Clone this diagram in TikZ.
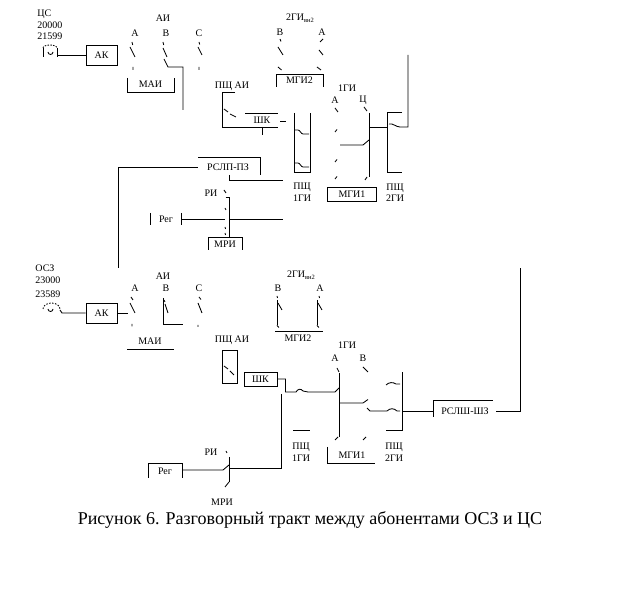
\documentclass[tikz,border=0pt]{standalone}
\usepackage{fontspec}
\setmainfont{Liberation Serif}
\begin{document}
\begin{tikzpicture}[x=1pt,y=-1pt,line width=0.85pt,
  every node/.style={inner sep=0pt,font=\fontsize{10}{11}\selectfont},
  boxn/.style={draw,line width=0.85pt},
  wire/.style={line width=0.85pt},
  cnt/.style={line width=0.85pt},
  capt/.style={font=\fontsize{18}{20}\selectfont}]
\useasboundingbox (0,0) rectangle (622,609);
\fill[white] (0,0) rectangle (622,609);

% ================= TOP: ЦС =================
\node[anchor=west] (cs) at (37,14) {ЦС};
\node[anchor=west] (csa) at (37,25) {20000};
\node[anchor=west] (csb) at (37,36) {21599};
% phone
\draw[cnt,dash pattern=on 1.5pt off 1.3pt] (43,48) arc[start angle=180,end angle=360,x radius=7,y radius=3];
\draw[cnt] (43,48)--(43,57) (57,48)--(57,57);
\draw[cnt] (48,52) arc[start angle=180,end angle=0,radius=2.5];
\coordinate (ph1) at (57,55);
\node[boxn,minimum width=31pt,minimum height=20pt] (ak1) at (101.5,55) {АК};
\draw[wire] (ph1)--(ak1.west);
% АИ
\node (ai1) at (163,18) {АИ};
\node (ai1a) at (135,33) {А};
\node (ai1b) at (166,33) {В};
\node (ai1c) at (199,33) {С};
\draw[cnt] (132,42)--(132.7,45) (130,47)--(135,57) (133,67)--(133,70);
\draw[cnt] (163,42)--(163.7,45) (163,48)--(167,57);
\draw[wire] (164,59)--(168,67)--(183,67)--(183,110);
\draw[cnt] (199,42)--(199.7,44.5) (198,47)--(202,55) (199,67)--(199,70);
\draw[wire] (127,78)--(127,92)--(174,92)--(174,78);
\node (mai1) at (150.5,84.5) {МАИ};
% 2ГИвн2
\node (gvn1) at (300,18) {2ГИ\raisebox{-2pt}{\fontsize{6.5}{6.5}\selectfont вн2}};
\node (gvn1b) at (280,32) {В};
\node (gvn1a) at (322,32) {А};
\draw[cnt] (280,39)--(281,41.5) (278,47)--(283,55) (278,67)--(281.5,70);
\draw[cnt] (320,42)--(323,39) (319,50)--(323,55) (317,67)--(321,70);
\draw[wire] (276,87)--(276,74)--(323,74)--(323,87);
\node (mgi2a) at (299.5,80.5) {МГИ2};
% ПЩ АИ + ШК
\node (pai1) at (232,86) {ПЩ АИ};
\draw[wire] (235,92)--(222.5,92)--(222.5,127)--(278,127);
\draw[cnt] (224,109)--(228,112) (230,114)--(236,117);
\draw[wire] (245,113)--(278,113);
\node (shk1) at (262,120) {ШК};
\draw[wire] (280,121.5)--(286,121.5) (262,127)--(262,135);
% ПЩ 1ГИ
\draw[wire] (294,113)--(294,172)--(310,172)--(310,113);
\draw[cnt] (295,130)--(298,130) .. controls (300,130) and (301,134) .. (303,134) -- (309,134);
\draw[cnt] (295,163)--(298,163) .. controls (300,163) and (301,167) .. (303,167) -- (309,167);
\node (p1g1) at (302,187) {ПЩ};
\node (p1g1b) at (302,198) {1ГИ};
% РСЛП-ПЗ
\node (rs1) at (228,167) {РСЛП-ПЗ};
\draw[wire] (118,268)--(118,167)--(198,167);
\draw[wire] (198,157)--(260,157)--(260,175);
\draw[wire] (229,175)--(229,180)--(283,180);
% РИ, Рег, МРИ
\node (ri1) at (211,193) {РИ};
\draw[cnt] (224,190)--(226,193) (225,208)--(226,210) (225,227)--(225.5,229) (225,233)--(225.5,235);
\draw[wire] (225.5,197)--(229,197)--(229,237);
\draw[wire] (181,219)--(225,219) (229,219)--(283,219);
\draw[wire] (150,213)--(150,225) (181,213)--(181,225);
\node (reg1) at (166,219) {Рег};
\draw[wire] (208,250)--(208,237)--(242,237)--(242,250);
\node (mri1) at (225,244.5) {МРИ};
% 1ГИ
\node (g1a) at (347,88) {1ГИ};
\node (g1aa) at (335,100) {А};
\node (g1ab) at (363,100) {Ц};
\draw[cnt] (335,108)--(338,112) (335,132)--(337,129.5) (335,162)--(337,159.5) (335,179)--(337,176.5);
\draw[wire] (340,145)--(363,145)--(369,140);
\draw[cnt] (364,107)--(367,111) (365,180)--(367,177);
\draw[wire] (369,113)--(369,177) (369,127)--(387,127);
\draw[wire] (402,112)--(387,112)--(387,172)--(402,172);
\draw[wire] (389,124) .. controls (393,123) and (396,127) .. (400,127) -- (408,127) -- (408,55);
\node (p2g1) at (395,188) {ПЩ};
\node (p2g1b) at (395,198) {2ГИ};
\node[boxn,minimum width=49.5pt,minimum height=14.5pt] (mgi1a) at (352,194.5) {МГИ1};

% ================= BOTTOM: ОСЗ =================
\node[anchor=west] (os) at (35,268.5) {ОСЗ};
\node[anchor=west] (osa) at (35,280.5) {23000};
\node[anchor=west] (osb) at (35,294.5) {23589};
\draw[cnt,dash pattern=on 1.5pt off 1.5pt] (43,309) arc[start angle=180,end angle=360,x radius=8.5,y radius=6];
\draw[cnt] (48,309) arc[start angle=180,end angle=0,radius=2.5];
\coordinate (ph2) at (62,313);
\node[boxn,minimum width=31pt,minimum height=20pt] (ak2) at (101.5,313) {АК};
\draw[wire] (60,310)--(ph2)--(ak2.west);
\draw[wire] (ak2.east)--(128,313);
\node (ai2) at (163,276) {АИ};
\node (ai2a) at (135,288) {А};
\node (ai2b) at (166,288) {В};
\node (ai2c) at (199,288) {С};
\draw[cnt] (131,297)--(133,300) (130,303)--(135,313) (132,324)--(132,326.5);
\draw[wire] (163,298)--(163,324.5)--(183,324.5);
\draw[cnt] (164,300)--(165,302) (165,304)--(168,313);
\draw[cnt] (199,297)--(201,299.5) (198,303)--(202,313) (198,325)--(198,327);
\node (mai2) at (150,341) {МАИ};
\draw[wire] (127,349.5)--(174,349.5);
% 2ГИвн2
\node (gvn2) at (301,275) {2ГИ\raisebox{-2pt}{\fontsize{6.5}{6.5}\selectfont вн2}};
\node (gvn2b) at (278,288) {В};
\node (gvn2a) at (320,288) {А};
\draw[cnt] (277,296)--(277.5,298) (278,303)--(282,310) (277,325.5)--(279,327.5);
\draw[wire] (277,300)--(277,325);
\draw[cnt] (319,296)--(319.5,298) (318,303)--(322,310) (317,325.5)--(319,327.5);
\draw[wire] (317,300)--(317,325);
\draw[wire] (275,331)--(323,331);
\node (mgi2b) at (298,338) {МГИ2};
% ПЩ АИ, ШК
\node (pai2) at (232,340) {ПЩ АИ};
\node[boxn,minimum width=15pt,minimum height=33pt] (paib) at (229.5,366.5) {};
\draw[cnt] (224,366)--(228,369) (230,371)--(234,375);
\node[boxn,minimum width=33pt,minimum height=14pt] (shk2) at (260.5,379) {ШК};
\draw[wire] (shk2.east)--(285.5,379)--(285.5,392)--(293,392)--(296,392) .. controls (298,388.5) and (301,388.5) .. (303,391) -- (308,392) -- (335,392)--(339,388);
\draw[wire] (281.5,394)--(281.5,468)--(229,468);
\draw[wire] (293,430)--(310,430);
\node (p1g2) at (301,447) {ПЩ};
\node (p1g2b) at (301,458) {1ГИ};
% РИ, Рег, МРИ
\node (ri2) at (211,452) {РИ};
\draw[cnt] (226,451)--(227,453) (225,487)--(229,482);
\draw[wire] (229,457)--(229,482);
\draw[wire] (182,470)--(223,470)--(229,465);
\draw[wire] (148,478)--(148,463)--(182,463)--(182,478);
\node (reg2) at (165,471) {Рег};
\node (mri2) at (222,502) {МРИ};
% 1ГИ
\node (g1b) at (347,345) {1ГИ};
\node (g1ba) at (335,358) {А};
\node (g1bb) at (363,358) {В};
\draw[cnt] (337,368)--(339,372) (335,440)--(338,437);
\draw[wire] (339,373)--(339,437);
\draw[wire] (339,403)--(363,403)--(368,399.5);
\draw[cnt] (363,367)--(368,372) (363,440)--(366,437);
\draw[wire] (367,408)--(370,411)--(387,411) .. controls (390,408) and (394,408) .. (397,411) -- (400,411);
\draw[wire] (386,430)--(402,430)--(402,372);
\draw[cnt] (386,385) .. controls (389,382) and (393,382) .. (396,384) -- (400,384);
\node (p2g2) at (394,447) {ПЩ};
\node (p2g2b) at (394,458) {2ГИ};
\draw[wire] (327,447)--(327,463)--(375,463);
\node (mgi1b) at (352,455) {МГИ1};
% РСЛШ-ШЗ
\node (rs2) at (465,411) {РСЛШ-ШЗ};
\draw[wire] (402,411)--(433,411);
\draw[wire] (433,417)--(433,400)--(493,400);
\draw[wire] (496,411)--(520,411)--(520,268);

% caption
\node[capt] (cap) at (310,520) {Рисунок 6. Разговорный тракт между абонентами ОСЗ и ЦС};
\end{tikzpicture}
\end{document}
